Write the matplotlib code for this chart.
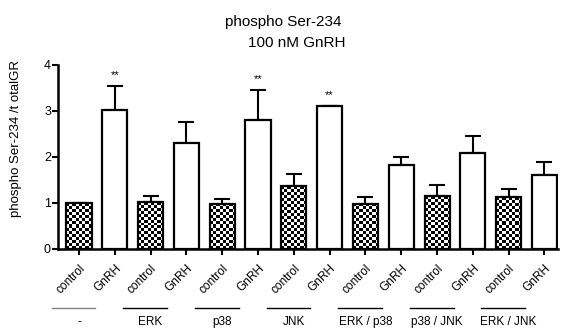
import numpy as np
import matplotlib
matplotlib.use("Agg")
import matplotlib.pyplot as plt
import matplotlib.transforms as mtransforms

plt.rcParams['font.family'] = ['Liberation Sans', 'DejaVu Sans']

# data
bar_labels = ['control', 'GnRH'] * 7
groups = ['-', 'ERK', 'p38', 'JNK', 'ERK / p38', 'p38 / JNK', 'ERK / JNK']
values = [1.0, 3.02, 1.02, 2.30, 0.98, 2.80, 1.37, 3.10, 0.98, 1.83, 1.15, 2.09, 1.12, 1.61]
errors = [0.0, 0.53, 0.14, 0.45, 0.10, 0.65, 0.25, 0.01, 0.15, 0.17, 0.23, 0.36, 0.19, 0.29]
stars = {1: '**', 5: '**', 7: '**'}

fig = plt.figure(figsize=(5.62, 3.35), dpi=100)
ax = fig.add_axes([0.103, 0.257, 0.890, 0.549])

x = np.arange(len(values))
w = 0.7
faces = ['none' if i % 2 == 0 else 'white' for i in range(len(values))]
bars = ax.bar(x, values, width=w, color=faces, edgecolor='black', linewidth=1.6, zorder=2)
ax.errorbar(x, values, yerr=[np.zeros(len(values)), errors], fmt='none',
            ecolor='black', elinewidth=1.5, capsize=6, capthick=1.5, zorder=1)

# checkerboard fill for the control bars
px_per_unit = 46.0
for i in range(0, len(values), 2):
    h = values[i]
    rows = max(1, int(round(h * px_per_unit / 3.0)))
    cols = 8
    board = (np.add.outer(np.arange(rows), np.arange(cols)) % 2).astype(float)
    im = ax.imshow(board, extent=(x[i] - w / 2, x[i] + w / 2, 0, h), cmap='gray',
                   interpolation='nearest', aspect='auto', zorder=1.5, vmin=0, vmax=1)
    im.set_clip_path(bars[i])

for i, s in stars.items():
    ax.text(x[i], values[i] + errors[i] + 0.24, s, ha='center', va='center', fontsize=8)

ax.set_xlim(-0.59, 13.38)
ax.set_ylim(0, 4)
ax.set_yticks([0, 1, 2, 3, 4])
ax.set_xticks(x)
ax.set_xticklabels(bar_labels, rotation=45, ha='right', rotation_mode='anchor', fontsize=8.5)
ax.tick_params(axis='both', width=1.5, length=4, labelsize=9, pad=1)
ax.tick_params(axis='x', pad=6, labelsize=8.5)
for side in ['top', 'right']:
    ax.spines[side].set_visible(False)
for side in ['left', 'bottom']:
    ax.spines[side].set_linewidth(1.8)

ax.set_ylabel('phospho Ser-234 /t otalGR', fontsize=9.5)
ax.yaxis.set_label_coords(-0.072, 0.6)

# group lines and labels under the tick labels
trans = mtransforms.blended_transform_factory(ax.transData, fig.transFigure)
for g, name in enumerate(groups):
    c = 2 * g - 0.15
    col = 'gray' if g == 0 else 'black'
    ax.plot([c - 0.61, c + 0.61], [0.081, 0.081], color=col, lw=1.0,
            transform=trans, clip_on=False)
    ax.text(2 * g, 0.039, name, ha='center', va='center', fontsize=8.5, transform=trans)

fig.text(0.504, 0.934, 'phospho Ser-234', ha='center', va='center', fontsize=11)
fig.text(0.528, 0.872, '100 nM GnRH', ha='center', va='center', fontsize=11)

fig.savefig('out.png', dpi=100)
